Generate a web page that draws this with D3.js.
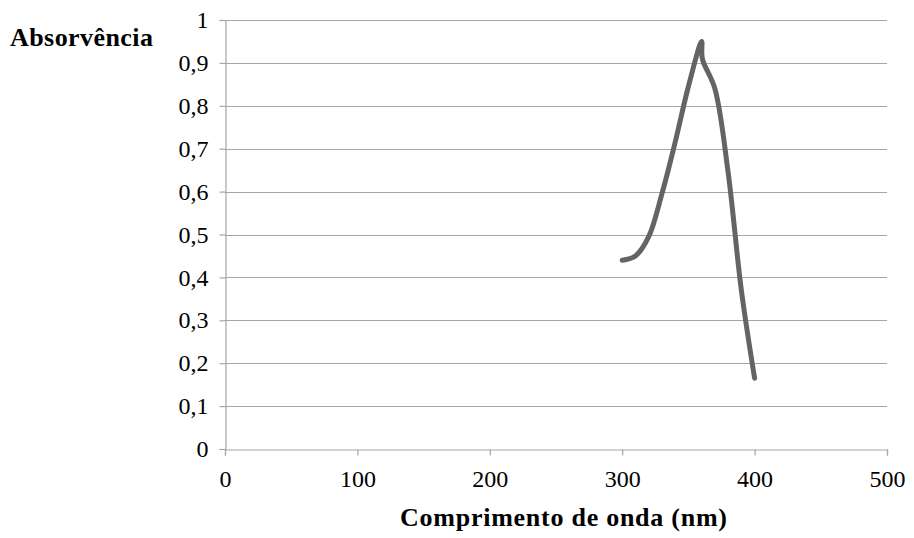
<!DOCTYPE html>
<html>
<head>
    <script src="https://d3js.org/d3.v7.min.js"></script>
    <style>
        body { margin: 0; background: #fff; }
        text { font-family: "Liberation Serif", "Times New Roman", serif; }
    </style>
</head>
<body>
    <svg width="914" height="538"></svg>
    <script>
        // spectrum
        var wavelength = [300, 310, 320, 330, 340, 350, 360, 360.5, 370, 380, 390, 400];
        var absorbance = [0.44, 0.45, 0.495, 0.595, 0.715, 0.845, 0.95, 0.91, 0.84, 0.645, 0.37, 0.165];
        var xTicks = [0, 100, 200, 300, 400, 500];
        var yTicks = [0, 0.1, 0.2, 0.3, 0.4, 0.5, 0.6, 0.7, 0.8, 0.9, 1];

        var svg = d3.select("svg"),
            margin = {top: 20, right: 27, bottom: 89, left: 225},
            width = +svg.attr("width") - margin.left - margin.right,
            height = +svg.attr("height") - margin.top - margin.bottom;

        var x = d3.scaleLinear().domain([0, 500]).range([0, width]),
            y = d3.scaleLinear().domain([0, 1]).range([height, 0]);

        var fmt = function(d) { return String(d).replace(".", ","); };

        var g = svg.append("g")
            .attr("transform", "translate(" + margin.left + "," + margin.top + ")");

        // horizontal gridlines
        g.append("g")
            .selectAll("line")
            .data(yTicks.slice(1))
            .enter().append("line")
            .attr("x1", 0).attr("x2", width)
            .attr("y1", function(d) { return Math.round(y(d)) + 0.5; })
            .attr("y2", function(d) { return Math.round(y(d)) + 0.5; })
            .attr("stroke", "#a6a6a6")
            .attr("stroke-width", 1.2);

        var yAxis = g.append("g")
            .attr("transform", "translate(0.5,0)")
            .call(d3.axisLeft(y).tickValues(yTicks).tickFormat(fmt).tickSize(6).tickPadding(11));

        var xAxis = g.append("g")
            .attr("transform", "translate(0," + (Math.round(height) + 0.5) + ")")
            .call(d3.axisBottom(x).tickValues(xTicks).tickSize(6).tickPadding(14));

        [yAxis, xAxis].forEach(function(a) {
            a.select(".domain").attr("stroke", "#a6a6a6").attr("stroke-width", 1.2);
            a.selectAll(".tick line").attr("stroke", "#a6a6a6").attr("stroke-width", 1.2);
            a.selectAll(".tick text")
                .attr("fill", "#000")
                .style("font-size", "24px")
                .style("font-family", "'Liberation Serif', 'Times New Roman', serif");
        });

        var line = d3.line()
            .x(function(d, i) { return x(d); })
            .y(function(d, i) { return y(absorbance[i]); })
            .curve(d3.curveCatmullRom.alpha(0.5));

        g.append("path")
            .datum(wavelength)
            .attr("fill", "none")
            .attr("stroke", "#646464")
            .attr("stroke-width", 5)
            .attr("stroke-linejoin", "round")
            .attr("stroke-linecap", "round")
            .attr("d", line);

        svg.append("text")
            .attr("x", 10)
            .attr("y", 46)
            .style("font-size", "26px")
            .style("font-weight", "bold")
            .attr("textLength", 143)
            .text("Absorvência");

        svg.append("text")
            .attr("x", 400)
            .attr("y", 526)
            .style("font-size", "26px")
            .style("font-weight", "bold")
            .attr("textLength", 327)
            .text("Comprimento de onda (nm)");
    </script>
</body>
</html>
